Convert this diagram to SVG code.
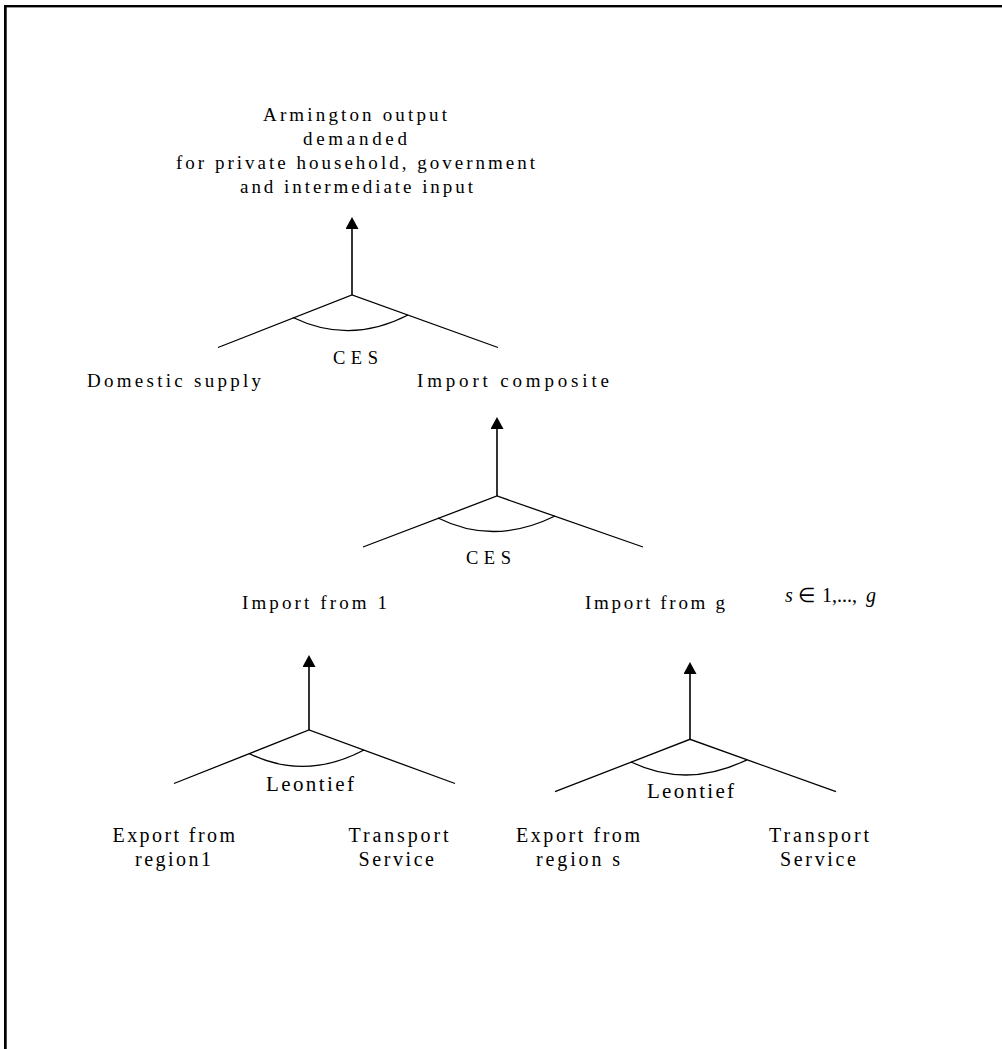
<svg xmlns="http://www.w3.org/2000/svg" width="1002" height="1049" viewBox="0 0 1002 1049">
<style>
.t{font-family:"Liberation Serif","Times New Roman",serif;font-size:19px;fill:#000}
.c{font-size:18.5px}
.b{font-size:20px}
.l{font-size:21px}
.m{font-family:"Liberation Serif","Times New Roman",serif;font-size:20px;fill:#000}
.i{font-style:italic}
.br{stroke:#000;stroke-width:1.3;fill:none}
.sh{stroke:#000;stroke-width:1.6;fill:none;marker-end:url(#ah)}
.arc{stroke:#000;stroke-width:1.3;fill:none}
.frame{fill:#000}
</style>
<defs>
<marker id="ah" markerUnits="userSpaceOnUse" markerWidth="12" markerHeight="13" viewBox="0 0 12 13" refX="5" refY="6.5" orient="auto">
<path d="M0,0 L12,6.5 L0,13 z" fill="#000"/>
</marker>
</defs>
<rect width="1002" height="1049" fill="#fff"/>
<g id="frame">
<rect class="frame" x="4" y="5" width="998" height="2.4"/>
<rect class="frame" x="4" y="5" width="2.7" height="1044"/>
</g>
<g id="connectors">
<path class="sh" d="M352,295 V224"/>
<path class="br" d="M218,347.5 L352,295 L498,347.5"/>
<path class="arc" d="M293,317.5 Q350,345 408,315"/>
<path class="sh" d="M497,496 V424"/>
<path class="br" d="M363,547 L497,496 L643,547"/>
<path class="arc" d="M438,518 Q494,546 555,516"/>
<path class="sh" d="M309,730 V662"/>
<path class="br" d="M174,783.5 L309,730 L455,783.5"/>
<path class="arc" d="M249,753.5 Q305,781 364,750"/>
<path class="sh" d="M690,739.3 V669"/>
<path class="br" d="M555,791.7 L690,739.3 L836,791.7"/>
<path class="arc" d="M631,762 Q687,789 747,759.8"/>
</g>
<g id="n-armington">
<text class="t" x="263" y="120.5" textLength="184" lengthAdjust="spacing">Armington output</text>
<text class="t" x="303" y="144.5" textLength="104" lengthAdjust="spacing">demanded</text>
<text class="t" x="176" y="169" textLength="359" lengthAdjust="spacing">for private household, government</text>
<text class="t" x="240" y="193" textLength="233" lengthAdjust="spacing">and intermediate input</text>
</g>
<g id="agg-ces-top"><text class="t c" x="333" y="364" textLength="45" lengthAdjust="spacing">CES</text></g>
<g id="n-domestic"><text class="t" x="87" y="387" textLength="174" lengthAdjust="spacing">Domestic supply</text></g>
<g id="n-import-composite"><text class="t" x="417" y="387" textLength="192" lengthAdjust="spacing">Import composite</text></g>
<g id="agg-ces-import"><text class="t c" x="466" y="564" textLength="45" lengthAdjust="spacing">CES</text></g>
<g id="n-import-1"><text class="t" x="242" y="609" textLength="145" lengthAdjust="spacing">Import from 1</text></g>
<g id="n-import-g"><text class="t" x="585" y="609" textLength="140" lengthAdjust="spacing">Import from g</text></g>
<g id="set-note"><text class="m" y="602"><tspan class="i" x="785">s</tspan><tspan x="798">∈</tspan><tspan x="822">1,...,</tspan><tspan class="i" x="866">g</tspan></text></g>
<g id="agg-leontief-1"><text class="t l" x="266" y="790.5" textLength="88" lengthAdjust="spacing">Leontief</text></g>
<g id="agg-leontief-s"><text class="t l" x="647" y="798" textLength="87" lengthAdjust="spacing">Leontief</text></g>
<g id="n-export-1">
<text class="t b" x="112.5" y="841.5" textLength="122.5" lengthAdjust="spacing">Export from</text>
<text class="t b" x="135" y="865.5" textLength="76" lengthAdjust="spacing">region1</text>
</g>
<g id="n-transport-1">
<text class="t b" x="348.5" y="841.5" textLength="100" lengthAdjust="spacing">Transport</text>
<text class="t b" x="358.5" y="865.5" textLength="75.5" lengthAdjust="spacing">Service</text>
</g>
<g id="n-export-s">
<text class="t b" x="516" y="841.5" textLength="124" lengthAdjust="spacing">Export from</text>
<text class="t b" x="536" y="865.5" textLength="84" lengthAdjust="spacing">region s</text>
</g>
<g id="n-transport-s">
<text class="t b" x="769" y="841.5" textLength="100" lengthAdjust="spacing">Transport</text>
<text class="t b" x="780" y="865.5" textLength="76" lengthAdjust="spacing">Service</text>
</g>
</svg>
